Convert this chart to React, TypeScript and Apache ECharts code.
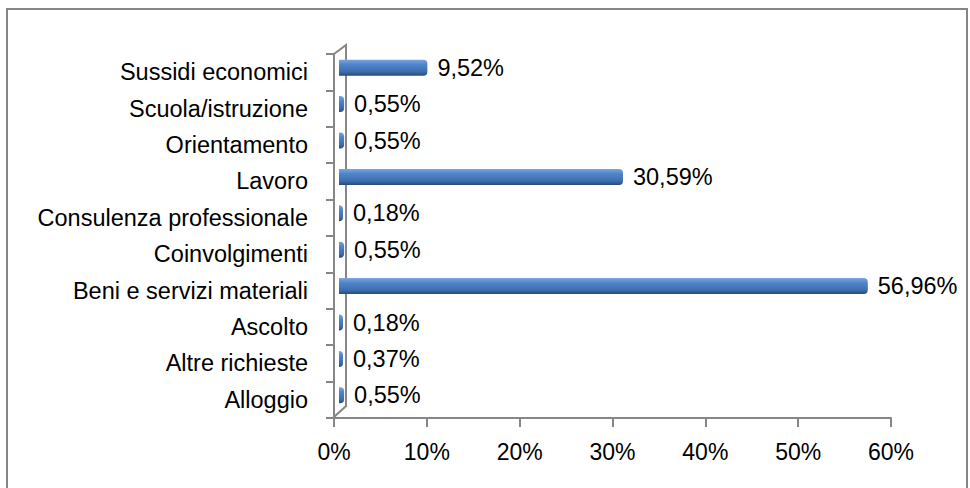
import React, { useEffect, useRef } from "react";
import * as echarts from "echarts";

const categories = [
  "Alloggio",
  "Altre richieste",
  "Ascolto",
  "Beni e servizi materiali",
  "Coinvolgimenti",
  "Consulenza professionale",
  "Lavoro",
  "Orientamento",
  "Scuola/istruzione",
  "Sussidi economici",
];
const values = [0.55, 0.37, 0.18, 56.96, 0.55, 0.18, 30.59, 0.55, 0.55, 9.52];
const xTicks = [0, 10, 20, 30, 40, 50, 60];

const FONT = "'Liberation Sans', Arial, sans-serif";
const GRAY = "#868686";

export default function App() {
  const ref = useRef<HTMLDivElement>(null);
  useEffect(() => {
    if (!ref.current) return;
    const chart = echarts.init(ref.current, undefined, { renderer: "svg" });
    const barGrad = new echarts.graphic.LinearGradient(0, 0, 0, 1, [
      { offset: 0, color: "#7ba5de" },
      { offset: 0.3, color: "#4f85cc" },
      { offset: 0.75, color: "#3f6dac" },
      { offset: 1, color: "#284a7a" },
    ]);
    chart.setOption({
      animation: false,
      backgroundColor: "#ffffff",
      textStyle: { fontFamily: FONT },
      graphic: [
        {
          type: "rect",
          shape: { x: 7, y: 9, width: 960, height: 500 },
          style: { fill: "none", stroke: GRAY, lineWidth: 2 },
          z: 0,
        },
        {
          type: "polyline",
          shape: { points: [[334, 54], [346, 45], [346, 406], [334, 417]] },
          style: { fill: "none", stroke: GRAY, lineWidth: 2 },
          z: 0,
        },
      ],
      grid: [
        { left: 334, right: 79, top: 54, bottom: 70, containLabel: false },
        { left: 339, right: 74, top: 49.5, bottom: 74.5, containLabel: false },
      ],
      xAxis: [
        {
          type: "value",
          gridIndex: 0,
          min: 0,
          max: 60,
          interval: 10,
          splitLine: { show: false },
          axisLine: { show: true, lineStyle: { color: GRAY, width: 2 } },
          axisTick: { show: true, length: 9, lineStyle: { color: GRAY, width: 2 } },
          axisLabel: {
            color: "#000",
            fontSize: 23,
            fontFamily: FONT,
            margin: 22,
            formatter: (v: number) => (xTicks.includes(v) ? v + "%" : ""),
          },
        },
        {
          type: "value",
          gridIndex: 1,
          min: 0,
          max: 60,
          interval: 10,
          show: false,
        },
      ],
      yAxis: [
        {
          type: "category",
          gridIndex: 0,
          data: categories,
          axisLine: { show: true, lineStyle: { color: GRAY, width: 2 } },
          axisTick: { show: true, length: 8, lineStyle: { color: GRAY, width: 2 } },
          axisLabel: { color: "#000", fontSize: 23.5, fontFamily: FONT, margin: 26 },
        },
        {
          type: "category",
          gridIndex: 1,
          data: categories,
          show: false,
        },
      ],
      series: [
        {
          type: "bar",
          xAxisIndex: 1,
          yAxisIndex: 1,
          data: values,
          barWidth: 16,
          barMinHeight: 4,
          itemStyle: { color: barGrad, borderRadius: [0, 4, 4, 0] },
          label: {
            show: true,
            position: "right",
            distance: 10,
            color: "#000",
            fontSize: 23.5,
            fontFamily: FONT,
            formatter: (p: any) => p.value.toFixed(2).replace(".", ",") + "%",
          },
          z: 3,
        },
      ],
    });
    return () => chart.dispose();
  }, []);
  return (
    <div
      ref={ref}
      style={{ position: "fixed", left: 0, top: 0, width: 970, height: 488 }}
    />
  );
}
